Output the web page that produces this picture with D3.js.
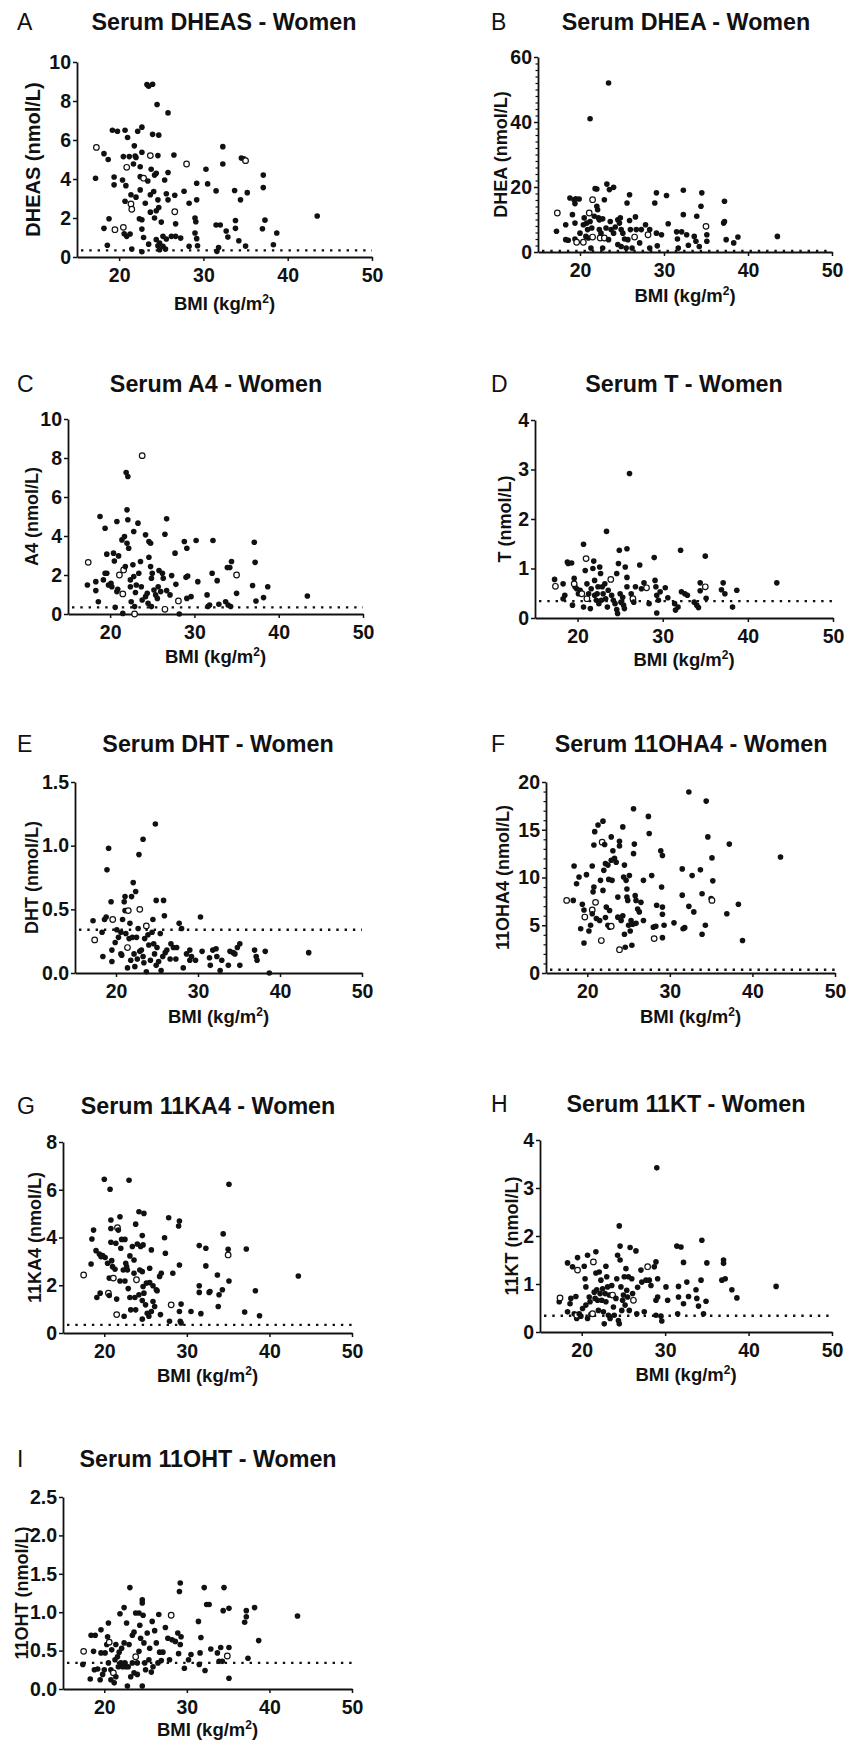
<!DOCTYPE html>
<html>
<head>
<meta charset="utf-8">
<script src="https://cdn.jsdelivr.net/npm/d3@7"></script>
<style>
  body { margin: 0; background: #fff; }
  svg text { font-family: "Liberation Sans", Arial, sans-serif; fill: #111; }
</style>
</head>
<body>
<div id="chart"></div>
<script>
// Panel text
const panelLetters = ["A", "B", "C", "D", "E", "F", "G", "H", "I"];
const panelTitles = [
    "Serum DHEAS - Women", "Serum DHEA - Women", "Serum A4 - Women",
    "Serum T - Women", "Serum DHT - Women", "Serum 11OHA4 - Women",
    "Serum 11KA4 - Women", "Serum 11KT - Women", "Serum 11OHT - Women"
];
const yLabels = [
    "DHEAS (nmol/L)", "DHEA (nmol/L)", "A4 (nmol/L)", "T (nmol/L)", "DHT (nmol/L)",
    "11OHA4 (nmol/L)", "11KA4 (nmol/L)", "11KT (nmol/L)", "11OHT (nmol/L)"
];
const yMax = [10, 60, 10, 4, 1.5, 20, 8, 4, 2.5];
const yStep = [2, 20, 2, 1, 0.5, 5, 2, 1, 0.5];
const yMinorStep = [0, 2, 0, 0, 0, 1, 0, 0, 0];
const yFormat = ["d", "d", "d", "d", ".1f", "d", "d", "d", ".1f"];
const xDomain = [15, 50];
const xTicks = [20, 30, 40, 50];
const lodValues = [0.34, 0.34, 0.34, 0.34, 0.34, 0.34, 0.34, 0.34, 0.34];

// [BMI, value, open circle]
const dheasPts = [
    [17.2,4.04],[17.3,5.62,1],[18.2,5.3],[18.2,1.47],[18.6,0.6],[18.7,5.0],[18.8,1.96],[19.2,6.5],[19.8,6.45],
    [19.4,4.1],[19.4,3.7],[19.5,1.4,1],[20.5,1.52,1],[20.7,6.5],[20.4,3.95],[20.5,5.15],[20.9,4.6,1],[20.8,3.66],
    [20.7,2.86],[20.9,1.06],[20.6,1.19],[21.0,6.13],[21.2,5.15],[21.4,3.19],[21.4,2.72,1],[21.5,2.45,1],[21.3,1.18],
    [21.5,0.41],[21.8,5.7],[21.9,5.18],[22.0,5.1],[21.7,4.77],[22.0,3.07],[22.2,6.45],[22.4,1.96],[22.5,4.12],
    [22.5,4.63],[22.5,3.44],[22.7,6.66],[22.7,5.37],[22.7,1.91],[22.7,1.43],[22.7,0.27],[22.9,4.04,1],[22.9,1.0],
    [23.1,2.76],[23.3,8.84],[23.5,8.76],[23.4,3.9],[23.5,0.66],[23.97,8.86],[23.7,5.2,1],[23.7,3.19],[23.7,2.3],
    [23.8,4.5],[23.97,6.29],[24.1,3.36],[24.2,4.2],[24.4,4.29],[24.4,2.37],[24.2,2.0],[24.5,7.82],[24.6,5.2],
    [24.7,6.25],[24.6,2.93],[24.7,2.54],[24.4,0.89],[24.6,0.58],[24.8,0.72],[24.8,0.37],[25.0,1.79],[25.2,1.06],
    [25.2,0.55],[25.5,0.41],[25.4,3.95],[25.6,3.24],[25.8,4.33],[25.8,2.93],[25.8,7.39],[25.6,0.92],[26.2,1.06],
    [26.5,5.23],[26.6,3.17],[26.6,2.32,1],[26.7,1.7],[26.7,1.06],[27.3,0.97],[27.7,3.37],[28.0,4.77,1],[28.3,2.76],
    [28.3,0.55],[29.0,2.0],[29.1,1.81],[29.0,1.23],[29.2,3.78],[29.2,2.93],[29.2,0.94],[29.3,0.58],[30.3,4.5],
    [30.5,3.75],[31.5,3.39],[31.5,1.64],[32.0,1.64],[31.6,0.29],[31.8,0.49],[32.3,5.66],[32.3,4.77],[32.7,1.33],
    [32.9,1.02],[33.7,3.41],[33.8,1.87],[33.8,1.47],[34.2,0.83],[34.4,2.93],[34.5,5.08],[34.8,5.04],[35.0,4.94,1],
    [35.2,3.3],[35.0,0.56],[37.0,1.45],[37.1,4.2],[37.1,3.56],[37.3,1.89],[38.3,0.63],[38.7,1.23],[43.5,2.1]
];
const dheaPts = [
    [17.2,6.4],[17.3,12.0,1],[18.3,8.4],[18.3,3.8],[18.6,3.6],[18.8,16.6],[19.1,11.5],[19.3,16.1],[19.4,14.9],
    [19.5,16.4],[19.4,8.9],[19.4,4.0],[19.6,3.0,1],[19.9,16.3],[20.0,5.8],[20.4,3.0,1],[20.4,8.4],[20.5,10.5],
    [20.7,4.8],[20.8,8.9],[20.9,6.9],[21.0,4.3],[21.1,12.0,1],[21.2,41.0],[21.2,9.4],[21.3,1.2],[21.5,16.1,1],
    [21.5,4.6,1],[21.4,7.4],[21.7,11.0],[21.8,19.5],[22.0,19.4],[22.0,14.1],[22.1,13.0],[22.2,10.5],[22.3,9.9],
    [22.3,6.9],[22.4,4.3,1],[22.5,5.8],[22.7,1.2],[22.7,10.2],[22.9,16.1],[22.9,4.3,1],[23.1,7.4],[23.2,20.9],
    [23.4,52.0],[23.5,19.2],[23.4,3.8],[23.6,9.4],[23.7,6.9],[24.0,19.9],[24.0,5.8],[24.2,7.7],[24.5,9.9],
    [24.5,2.3],[24.7,8.9],[24.8,10.5],[24.9,6.9],[24.9,1.7],[25.1,5.8],[25.3,4.0],[25.5,1.2],[25.6,15.1],
    [25.7,3.8],[25.9,17.6],[25.9,9.7],[26.0,6.9],[26.2,1.2],[26.5,4.6,1],[26.6,10.8],[26.7,6.9],[27.1,2.8],
    [27.3,6.9],[27.8,8.4],[28.1,5.3,1],[28.3,6.9],[28.3,1.2],[28.9,15.1],[29.1,18.2],[29.1,5.8],[29.2,1.9],
    [29.7,5.3],[30.3,17.4],[30.5,8.7],[31.5,6.2],[31.6,4.0],[31.7,1.2],[32.1,6.2],[32.3,11.5],[32.3,19.0],
    [32.7,5.3],[32.9,2.1],[33.6,4.8],[33.8,3.3],[33.9,11.0],[34.2,1.7],[34.4,14.1],[34.5,18.2],[35.0,7.9,1],
    [35.1,5.3],[35.1,3.3],[37.1,8.9],[37.2,9.4],[37.2,15.6],[37.4,3.8],[38.3,2.8],[38.8,4.6],[43.5,4.8]
];
const a4Pts = [
    [17.3,1.49],[17.4,2.65,1],[18.3,1.66],[18.3,1.2],[18.6,0.63],[18.8,5.0],[19.2,1.75],[19.4,4.4],[19.4,2.09],
    [19.6,3.07],[19.6,2.09],[19.8,1.49],[20.1,1.58],[20.2,1.4],[20.4,3.12],[20.5,2.72],[20.6,0.34],[20.8,4.74],
    [20.8,1.15],[20.9,1.27],[21.1,2.0,1],[21.0,2.98],[21.4,3.8],[21.5,1.03,1],[21.6,2.26,1],[21.5,0.03],[21.7,3.97],
    [21.8,2.43],[21.9,7.26],[22.0,5.34],[22.1,7.05],[22.1,4.83],[22.0,3.63],[22.2,3.37],[22.4,1.75],[22.4,1.4],
    [22.5,0.63],[22.7,2.52],[22.8,4.23],[22.8,1.92],[22.9,0.0,1],[22.9,0.38],[23.0,1.1],[23.1,1.49],[23.3,4.66],
    [23.4,2.09],[23.6,2.69],[23.7,1.4],[23.8,0.72],[23.8,8.12,1],[24.2,4.06],[24.2,0.89],[24.4,1.06],[24.5,0.55],
    [24.6,2.91],[24.6,3.72],[24.8,3.63],[24.8,2.43],[24.9,1.83],[24.9,0.38],[25.0,2.09],[25.2,1.23],[25.4,0.98],
    [25.6,0.8],[25.7,1.4],[25.8,2.23],[26.0,1.15],[26.2,2.09],[26.3,1.83],[26.5,4.09],[26.7,4.88],[26.5,0.24,1],
    [26.7,1.2],[27.1,0.98],[27.3,1.97],[27.7,3.12],[27.8,1.52],[28.1,0.67,1],[28.2,0.0],[28.8,3.72],[29.0,1.88],
    [29.1,3.37],[29.1,0.8],[29.2,1.95],[29.6,0.89],[30.2,3.77],[30.4,1.66],[31.5,0.98],[31.6,0.38],[31.8,0.46],
    [32.1,2.09],[32.2,3.77],[32.7,1.71],[32.9,0.5],[33.7,0.63],[33.9,2.38],[34.0,0.46],[34.2,2.38],[34.4,2.69],
    [34.3,0.38],[35.0,2.0,1],[35.0,1.06],[36.9,1.46],[37.1,3.68],[37.2,2.65],[37.3,0.67],[38.2,0.84],[38.7,1.4],
    [43.4,0.92]
];
const tPts = [
    [17.3,0.78],[17.4,0.64,1],[18.3,0.69],[18.3,0.39],[18.5,0.46],[18.8,1.13],[18.9,1.1],[19.3,1.11],[19.4,0.26],
    [19.6,0.8],[19.7,0.63],[19.6,0.69,1],[19.9,0.59],[20.1,0.49],[20.3,0.56],[20.5,0.49,1],[20.7,0.22],[20.7,1.49],
    [20.9,0.96],[21.0,1.2,1],[21.1,0.69],[21.1,0.39,1],[21.3,0.49],[21.5,0.19],[21.6,0.59],[21.8,1.0],[21.9,1.15],
    [22.0,0.76],[22.0,0.46],[22.2,0.36],[22.3,0.49],[22.4,0.63],[22.5,0.29],[22.6,1.03],[22.7,0.9],[22.8,0.36],
    [22.9,0.63],[23.0,0.49],[23.2,0.69],[23.3,0.39],[23.4,1.75],[23.5,0.22],[23.6,0.56],[23.9,0.78,1],[24.0,0.46],
    [24.2,0.36],[24.4,0.29],[24.6,0.9],[24.6,0.17],[24.7,0.09],[24.8,1.1],[24.9,1.37],[25.0,0.49],[25.1,0.32],
    [25.3,0.42],[25.4,0.26],[25.5,0.19],[25.6,1.03],[25.8,0.63],[25.8,1.4],[25.8,0.82],[26.1,2.92],[26.3,0.49],
    [26.5,0.39,1],[26.6,0.32],[26.8,0.63],[27.3,1.07],[27.5,0.59],[27.8,0.71],[28.1,0.61,1],[28.4,0.29],[29.0,1.22],
    [29.1,0.76],[29.2,0.63],[29.3,0.46],[29.3,0.1],[29.5,0.36],[29.7,0.53],[30.3,0.61],[30.6,0.41],[31.4,0.29],
    [31.5,0.16],[31.8,0.22],[32.1,1.37],[32.2,0.53],[32.6,0.49],[32.9,0.46],[33.7,0.32],[34.0,0.26],[34.2,0.21],
    [34.4,0.55],[34.4,0.71],[35.0,0.63,1],[35.0,1.25],[35.1,0.4],[36.9,0.57],[37.1,0.71],[37.3,0.49],[38.2,0.22],
    [38.7,0.56],[43.4,0.71]
];
const dhtPts = [
    [17.2,0.41],[17.4,0.26,1],[18.3,0.32],[18.4,0.13],[18.6,0.42],[18.8,0.44],[18.9,0.81],[19.1,0.98],[19.4,0.56],
    [19.6,0.42,1],[19.5,0.18],[19.5,0.09],[19.9,0.24],[20.1,0.34],[20.3,0.28],[20.6,0.32],[20.6,0.15],[20.7,0.14],
    [20.8,0.42],[21.0,0.56],[21.1,0.49],[21.1,0.6],[21.2,0.31],[21.4,0.2,1],[21.5,0.49,1],[21.4,0.04],[21.6,0.27],
    [21.7,0.39],[21.8,0.1],[21.9,0.6],[22.0,0.28],[22.1,0.71],[22.2,0.15],[22.3,0.05],[22.4,0.64],[22.5,0.28],
    [22.6,0.11],[22.7,0.35],[22.8,0.93],[22.9,0.17],[22.9,0.5,1],[23.1,0.18],[23.3,1.05],[23.3,0.13],[23.4,0.08],
    [23.5,0.27],[23.7,0.37,1],[23.7,0.01],[23.9,0.3],[24.0,0.22],[24.2,0.1],[24.4,0.32],[24.5,0.42],[24.6,0.23],
    [24.7,0.15],[24.8,1.17],[24.9,0.57],[24.9,0.06],[25.0,0.2],[25.2,0.09],[25.4,0.31],[25.5,0.02],[25.7,0.13],
    [25.8,0.57],[25.9,0.45],[26.0,0.16],[26.2,0.18],[26.6,0.11],[26.7,0.23],[27.0,0.2],[27.3,0.11],[27.4,0.2],
    [27.7,0.39],[28.0,0.35],[28.2,0.04],[28.6,0.15],[29.0,0.1],[29.0,0.18],[29.2,0.13],[29.7,0.1],[30.3,0.44],
    [30.5,0.17],[31.4,0.12],[31.5,0.06],[31.8,0.18],[32.2,0.19],[32.3,0.13],[32.7,0.02],[32.9,0.1],[33.7,0.06],
    [33.9,0.17],[34.3,0.16],[34.5,0.15],[34.8,0.2],[35.1,0.23],[35.1,0.06],[36.9,0.18],[37.1,0.13],[37.2,0.1],
    [38.2,0.17],[38.7,0.0],[43.5,0.16]
];
const ohA4Pts = [
    [17.5,7.6,1],[18.3,7.6],[18.4,11.2],[18.7,9.35],[19.0,10.05],[19.2,4.64],[19.4,7.2],[19.6,6.6],[19.6,3.14],
    [19.7,5.86,1],[19.9,10.3],[20.2,4.4],[20.4,5.0],[20.6,11.2],[20.6,6.6,1],[20.6,6.2],[20.7,8.5],[20.8,9.0],
    [20.8,13.4],[20.9,14.8],[21.0,7.4,1],[21.1,5.7],[21.3,15.5],[21.5,5.5],[21.6,9.7],[21.7,3.4,1],[21.8,13.7,1],
    [21.9,15.9],[21.9,8.65],[22.0,10.75],[22.1,13.45],[22.2,11.45],[22.2,5.8],[22.3,6.9],[22.5,5.0],[22.5,11.3],
    [22.6,9.8],[22.7,4.8],[22.7,6.55],[22.9,14.25],[22.9,11.8],[22.9,4.9,1],[23.0,9.7],[23.1,12.8],[23.3,12.0],
    [23.5,11.6],[23.7,7.95],[23.7,5.85],[23.9,13.8],[23.9,13.3],[23.9,2.44,1],[24.1,5.5],[24.3,15.3],[24.3,6.0],
    [24.4,10.05],[24.5,11.3],[24.5,4.05],[24.6,2.7],[24.7,9.7],[24.8,8.8],[24.8,7.95],[24.9,7.6],[25.0,5.0],
    [25.1,10.2],[25.2,4.4],[25.3,5.5],[25.4,2.9],[25.5,5.1],[25.6,17.2],[25.6,12.5],[25.7,13.5],[25.8,8.1],
    [25.9,7.6],[25.9,5.2],[26.1,6.7],[26.3,6.4],[26.5,7.4],[26.8,9.7],[26.8,5.5],[27.4,16.4],[27.5,14.6],
    [27.8,10.2],[28.0,4.8],[28.1,3.6,1],[28.3,4.9],[28.4,7.1],[28.9,12.8],[29.0,9.0],[29.1,12.3],[29.1,6.9],
    [29.1,6.15],[29.1,3.7],[29.3,5.0],[30.5,5.25],[31.5,10.9],[31.5,8.15],[31.6,4.64],[31.8,4.75],[32.3,18.95],
    [32.3,6.98],[32.7,10.2],[32.9,6.4],[33.7,10.8],[33.9,8.3],[33.9,4.05],[34.3,5.0],[34.4,18.0],[34.6,14.25],
    [35.0,7.8],[35.1,7.6,1],[35.1,12.05],[35.2,9.65],[36.9,6.2],[37.2,13.5],[38.3,7.2],[38.8,3.4],[43.4,12.15]
];
const kA4Pts = [
    [17.5,2.43,1],[18.4,2.89],[18.5,3.94],[18.7,4.31],[19.0,3.45],[19.1,1.49],[19.5,1.67],[19.4,3.31],[19.6,3.2],
    [19.8,3.24],[20.0,6.44],[20.1,3.16],[20.4,2.92],[20.5,1.67,1],[20.6,2.3],[20.6,1.57],[20.7,6.02],[20.8,4.73],
    [20.8,4.38],[20.8,3.8],[20.9,3.03],[21.0,2.78],[21.1,2.3,1],[21.3,2.67],[21.4,3.76],[21.5,1.42],[21.5,0.77,1],
    [21.6,4.41,1],[21.7,4.31],[21.9,4.87],[21.9,2.18],[22.0,3.55],[22.1,3.92],[22.3,2.64],[22.4,0.7],[22.5,2.18],
    [22.5,3.92],[22.6,2.92],[22.7,2.78],[22.8,2.64],[22.9,1.86],[23.0,6.4],[23.1,3.23],[23.1,1.49],[23.2,0.97],
    [23.4,3.62],[23.6,3.06],[23.6,2.5],[23.7,1.49],[23.8,0.97],[23.8,4.56],[23.9,2.23,1],[24.0,3.73],[24.2,5.08],
    [24.2,1.6],[24.3,2.64],[24.4,3.62],[24.6,4.08],[24.6,2.57],[24.6,1.36],[24.6,0.58],[24.7,3.69],[24.7,1.95],
    [24.8,5.01],[24.8,1.67],[25.0,1.18],[25.1,2.09],[25.2,0.83],[25.4,0.7],[25.5,2.71],[25.5,2.11],[25.7,0.9],
    [25.7,3.48],[25.9,1.98],[25.9,1.32],[26.1,1.11],[26.3,1.81],[26.4,1.77],[26.7,2.37],[26.8,0.77],[26.9,2.5],
    [27.3,3.99],[27.4,3.34],[27.8,4.83],[27.9,0.49],[28.1,1.18,1],[28.3,2.5],[29.0,4.48],[29.1,4.69],[29.1,2.85],
    [29.1,0.9],[29.2,0.49],[29.3,1.21],[29.3,0.42],[30.5,0.9],[31.5,3.66],[31.5,1.7],[31.5,1.98],[31.7,0.81],
    [32.3,3.55],[32.3,2.81],[32.7,1.7],[32.8,1.74],[33.7,2.43],[33.8,1.11],[33.9,1.6],[34.3,1.81],[34.4,4.15],
    [35.0,3.27,1],[35.0,3.51],[35.1,6.23],[35.1,2.18],[37.0,0.88],[37.2,3.52],[38.3,1.77],[38.8,0.72],[43.5,2.39]
];
const kTPts = [
    [17.3,0.63],[17.4,0.71,1],[18.3,0.42],[18.3,1.44],[18.6,0.59],[18.7,0.7],[18.9,1.36],[19.1,0.38],[19.3,0.74],
    [19.4,0.28],[19.4,0.35,1],[19.5,1.55],[19.5,1.29,1],[19.7,0.38],[19.9,0.33],[20.1,0.49],[20.3,1.37],[20.4,1.11],
    [20.5,0.94],[20.5,0.56],[20.7,1.6],[20.7,0.28],[20.9,0.73],[21.0,0.63],[21.1,0.37],[21.3,0.38,1],[21.4,1.46,1],
    [21.5,0.83],[21.6,0.7],[21.7,1.67],[21.7,1.23],[21.8,0.88],[21.9,0.66],[22.0,0.45],[22.1,1.25],[22.2,0.8],
    [22.3,1.08],[22.4,0.66],[22.5,0.9],[22.6,0.42],[22.7,0.17],[22.8,0.8],[22.9,1.37],[22.9,0.63],[23.0,1.15],
    [23.1,0.94],[23.2,0.35],[23.3,0.77],[23.4,0.28],[23.6,0.97],[23.7,0.77,1],[23.8,0.52],[23.9,0.35],[24.1,0.7],
    [24.2,1.11],[24.3,1.6],[24.4,0.24],[24.5,2.21],[24.5,0.17],[24.6,1.79],[24.6,1.5],[24.7,0.94],[24.8,0.45],
    [24.9,0.66],[25.0,0.77],[25.1,1.15],[25.2,0.56],[25.3,1.32],[25.4,0.87],[25.5,0.73],[25.6,1.15],[25.7,0.45],
    [25.8,1.76],[26.0,1.11],[26.1,0.8],[26.2,0.66,1],[26.5,1.69],[26.6,0.38],[26.7,0.93],[27.1,1.29],[27.2,1.04],
    [27.5,0.42],[27.7,1.08],[27.9,1.36,1],[28.1,1.08],[28.3,0.97],[28.7,1.36],[28.9,1.46],[28.9,0.66],[28.9,0.35],
    [29.0,3.42],[29.1,1.11],[29.1,0.73],[29.5,0.33],[29.6,0.23],[30.1,0.94],[30.3,0.66],[31.4,1.79],[31.6,0.73],
    [31.5,0.38],[31.6,0.95],[31.9,1.77],[32.2,0.59],[32.2,1.45],[32.6,1.04],[32.8,0.74],[33.7,0.88],[33.8,0.7],
    [34.0,0.54],[34.3,1.08],[34.4,1.91],[34.6,0.38],[34.9,0.64],[35.0,1.44],[36.8,1.08],[37.0,1.5],[37.0,1.43],
    [37.2,1.11],[38.0,0.88],[38.6,0.71],[43.3,0.95]
];
const ohTPts = [
    [17.4,0.32],[17.5,0.49,1],[18.3,0.13],[18.4,0.7],[18.7,0.49],[18.9,0.7],[18.8,0.25],[19.2,0.26],[19.5,0.12],
    [19.6,0.77],[19.6,0.47],[19.8,0.19],[20.0,0.25],[20.1,0.47],[20.3,0.58],[20.5,0.86],[20.4,0.68],[20.6,0.61,1],
    [20.5,0.34],[20.8,0.25],[20.8,0.12],[20.9,0.51],[21.1,0.21,1],[21.2,0.08],[21.3,0.38],[21.4,0.58],[21.4,0.16],
    [21.6,0.42],[21.7,0.29],[21.8,0.48],[21.9,0.98],[22.0,0.34],[22.1,0.53],[22.2,0.29],[22.4,1.06],[22.4,0.6],
    [22.5,0.34],[22.6,0.29],[22.7,0.86],[22.8,0.04],[22.9,0.29],[23.0,0.58],[23.1,1.32],[23.2,0.16],[23.4,0.7],
    [23.4,0.34],[23.6,0.21],[23.6,0.74],[23.8,0.99],[23.8,0.42,1],[24.0,0.19],[24.0,0.34],[24.2,0.99],[24.2,0.49],
    [24.3,0.83],[24.4,0.66],[24.6,0.04],[24.6,1.16],[24.6,1.12],[24.7,0.96],[24.8,0.6],[24.9,0.34],[25.0,0.25],
    [25.2,0.73],[25.4,0.38],[25.5,0.53],[25.7,0.22],[25.8,0.88],[25.9,0.29],[26.1,0.76],[26.3,0.6],[26.5,0.34],
    [26.6,0.97],[26.7,0.48],[26.9,0.37],[27.1,0.48],[27.4,0.8],[27.7,0.66],[27.9,0.38],[28.1,0.96,1],[28.2,0.64],
    [28.6,0.62],[28.9,0.73],[29.0,0.46],[29.1,1.27],[29.2,1.38],[29.2,0.58],[29.3,0.68],[29.7,0.27],[30.2,0.38],
    [30.5,0.45],[31.4,0.88],[31.5,0.32],[31.6,0.47],[31.7,0.67],[32.1,1.32],[32.2,0.24],[32.4,1.1],[32.7,1.1],
    [32.9,0.52],[33.7,0.47],[33.9,0.36],[34.1,0.54],[34.3,0.36],[34.4,1.02],[34.5,1.32],[34.9,0.43,1],[35.1,1.05],
    [35.1,0.54],[35.1,0.14],[37.0,0.87],[37.2,0.94],[37.2,1.02],[37.4,0.4],[38.2,1.06],[38.7,0.63],[43.4,0.95]
];
const panelPoints = [dheasPts, dheaPts, a4Pts, tPts, dhtPts, ohA4Pts, kA4Pts, kTPts, ohTPts];

// Where each panel sits on the page
const layout = [
    { x0: 77,  x1: 372, yTop: 62,   yBot: 257,  letterX: 17,  titleX: 224, titleY: 30,   yLabelX: 33,  yLabelSize: 20, xLabelDy: 53 },
    { x0: 538, x1: 832, yTop: 57,   yBot: 252,  letterX: 491, titleX: 686, titleY: 30,   yLabelX: 501, yLabelSize: 18, xLabelDy: 50 },
    { x0: 68,  x1: 363, yTop: 419,  yBot: 614,  letterX: 17,  titleX: 216, titleY: 392,  yLabelX: 32,  yLabelSize: 18, xLabelDy: 49 },
    { x0: 535, x1: 833, yTop: 420,  yBot: 618,  letterX: 491, titleX: 684, titleY: 392,  yLabelX: 505, yLabelSize: 18, xLabelDy: 48 },
    { x0: 75,  x1: 362, yTop: 782,  yBot: 973,  letterX: 17,  titleX: 218, titleY: 752,  yLabelX: 32,  yLabelSize: 18, xLabelDy: 50 },
    { x0: 546, x1: 835, yTop: 782,  yBot: 973,  letterX: 491, titleX: 691, titleY: 752,  yLabelX: 503, yLabelSize: 18, xLabelDy: 50 },
    { x0: 63,  x1: 352, yTop: 1142, yBot: 1333, letterX: 17,  titleX: 208, titleY: 1114, yLabelX: 35,  yLabelSize: 18, xLabelDy: 49 },
    { x0: 540, x1: 832, yTop: 1140, yBot: 1332, letterX: 491, titleX: 686, titleY: 1112, yLabelX: 512, yLabelSize: 18, xLabelDy: 49 },
    { x0: 63,  x1: 352, yTop: 1497, yBot: 1689, letterX: 17,  titleX: 208, titleY: 1467, yLabelX: 22,  yLabelSize: 18, xLabelDy: 47 }
];

const width = 846;
const height = 1741;
const ink = "#111";

const svg = d3.select("#chart")
    .append("svg")
    .attr("width", width)
    .attr("height", height);

svg.append("rect")
    .attr("width", width)
    .attr("height", height)
    .attr("fill", "#fff");

const styleAxis = (g) => {
    g.select(".domain").attr("stroke", ink).attr("stroke-width", 1.8);
    g.selectAll(".tick line").attr("stroke", ink).attr("stroke-width", 1.5);
    g.selectAll(".tick text")
        .attr("fill", ink)
        .style("font-size", "19.5px")
        .style("font-weight", "bold");
};

panelPoints.forEach((pts, i) => {
    const L = layout[i];

    const x = d3.scaleLinear().domain(xDomain).range([L.x0, L.x1]);
    const y = d3.scaleLinear().domain([0, yMax[i]]).range([L.yBot, L.yTop]);

    const g = svg.append("g").attr("class", "panel");

    // Panel letter and title
    g.append("text")
        .attr("x", L.letterX)
        .attr("y", L.titleY)
        .style("font-size", "23px")
        .style("font-weight", "normal")
        .text(panelLetters[i]);

    g.append("text")
        .attr("x", L.titleX)
        .attr("y", L.titleY)
        .attr("text-anchor", "middle")
        .style("font-size", "23.3px")
        .style("font-weight", "bold")
        .text(panelTitles[i]);

    // Minor ticks first so the major axis draws over them
    if (yMinorStep[i] > 0) {
        const minor = d3.range(0, yMax[i] + 1e-9, yMinorStep[i])
            .filter(v => Math.abs(v / yStep[i] - Math.round(v / yStep[i])) > 1e-6);
        g.append("g")
            .attr("transform", `translate(${L.x0},0)`)
            .call(d3.axisLeft(y).tickValues(minor).tickSize(2.5).tickSizeOuter(0).tickFormat(""))
            .call(a => {
                a.select(".domain").remove();
                a.selectAll(".tick line").attr("stroke", ink).attr("stroke-width", 1.2);
            });
    }

    const yTicks = d3.range(0, yMax[i] + 1e-9, yStep[i]);
    g.append("g")
        .attr("transform", `translate(${L.x0},0)`)
        .call(d3.axisLeft(y).tickValues(yTicks).tickSize(4).tickSizeOuter(0).tickPadding(2).tickFormat(d3.format(yFormat[i])))
        .call(styleAxis);

    g.append("g")
        .attr("transform", `translate(0,${L.yBot})`)
        .call(d3.axisBottom(x).tickValues(xTicks).tickSize(4).tickSizeOuter(0).tickPadding(7.5).tickFormat(d3.format("d")))
        .call(styleAxis);

    // Axis titles
    g.append("text")
        .attr("transform", `translate(${L.yLabelX},${(L.yTop + L.yBot) / 2}) rotate(-90)`)
        .attr("text-anchor", "middle")
        .attr("dy", "0.35em")
        .style("font-size", `${L.yLabelSize}px`)
        .style("font-weight", "bold")
        .text(yLabels[i]);

    const xl = g.append("text")
        .attr("x", (L.x0 + L.x1) / 2)
        .attr("y", L.yBot + L.xLabelDy)
        .attr("text-anchor", "middle")
        .style("font-size", "18.5px")
        .style("font-weight", "bold");
    xl.append("tspan").text("BMI (kg/m");
    xl.append("tspan").attr("dy", -7).style("font-size", "12px").text("2");
    xl.append("tspan").attr("dy", 7).text(")");

    // Detection limit
    g.append("line")
        .attr("x1", x(xDomain[0]) + 4)
        .attr("x2", x(xDomain[1]))
        .attr("y1", y(lodValues[i]))
        .attr("y2", y(lodValues[i]))
        .attr("stroke", ink)
        .attr("stroke-width", 2.4)
        .attr("stroke-dasharray", "2.4 5.9");

    // Subjects
    g.selectAll(".pt")
        .data(pts)
        .enter()
        .append("circle")
        .attr("class", "pt")
        .attr("cx", d => x(d[0]))
        .attr("cy", d => y(d[1]))
        .attr("r", 2.8)
        .attr("fill", d => d[2] ? "#fff" : ink)
        .attr("stroke", d => d[2] ? ink : "none")
        .attr("stroke-width", 1.2);
});
</script>
</body>
</html>
